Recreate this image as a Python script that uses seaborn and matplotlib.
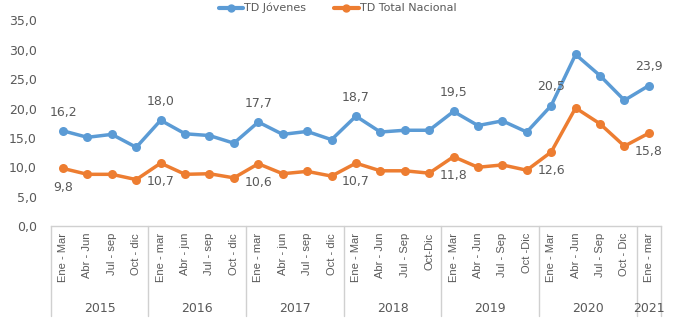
import matplotlib
matplotlib.use("Agg")
import matplotlib.pyplot as plt
import seaborn as sns
import pandas as pd

quarters = ["Ene - Mar", "Abr - Jun", "Jul - sep", "Oct - dic",
            "Ene - mar", "Abr - jun", "Jul - sep", "Oct - dic",
            "Ene - mar", "Abr - jun", "Jul - sep", "Oct - dic",
            "Ene - Mar", "Abr - Jun", "Jul - Sep", "Oct-Dic",
            "Ene - Mar", "Abr - Jun", "Jul - Sep", "Oct -Dic",
            "Ene - Mar", "Abr - Jun", "Jul - Sep", "Oct - Dic",
            "Ene - mar"]
years = ["2015", "2016", "2017", "2018", "2019", "2020", "2021"]
year_counts = [4, 4, 4, 4, 4, 4, 1]

td_jovenes = [16.2, 15.1, 15.6, 13.4, 18.0, 15.7, 15.4, 14.1, 17.7, 15.6, 16.1, 14.7,
              18.7, 16.0, 16.3, 16.3, 19.5, 17.1, 17.9, 16.0, 20.5, 29.2, 25.6, 21.4, 23.9]
td_total = [9.8, 8.8, 8.8, 7.9, 10.7, 8.8, 8.9, 8.2, 10.6, 8.9, 9.3, 8.5,
            10.7, 9.4, 9.4, 9.0, 11.8, 10.0, 10.4, 9.5, 12.6, 20.1, 17.4, 13.6, 15.8]
labeled = [0, 4, 8, 12, 16, 20, 24]

series_names = ["TD Jóvenes", "TD Total Nacional"]
colors = ["#5B9BD5", "#ED7D31"]

n = len(quarters)
df = pd.DataFrame({
    "idx": list(range(n)) * 2,
    "valor": td_jovenes + td_total,
    "serie": [series_names[0]] * n + [series_names[1]] * n,
})

sns.set_style("white")
plt.rcParams["font.family"] = ["DejaVu Sans"]

fig = plt.figure(figsize=(6.75, 3.29), dpi=100)
ax = fig.add_axes([0.0753, 0.313, 0.904, 0.625])

sns.lineplot(data=df, x="idx", y="valor", hue="serie", palette=colors,
             marker="o", markersize=6.5, linewidth=2.5, markeredgewidth=0,
             ax=ax, legend=False)

text_color = "#595959"
for i in labeled:
    ax.annotate(f"{td_jovenes[i]:.1f}".replace(".", ","), (i, td_jovenes[i]),
                xytext=(0, 13.5), textcoords="offset points", ha="center", va="center",
                fontsize=9, color=text_color)
    ax.annotate(f"{td_total[i]:.1f}".replace(".", ","), (i, td_total[i]),
                xytext=(0, -13.5), textcoords="offset points", ha="center", va="center",
                fontsize=9, color=text_color)

ax.set_xlim(-0.5, n - 0.5)
ax.set_ylim(0, 35)
ax.set_yticks([0, 5, 10, 15, 20, 25, 30, 35])
ax.set_yticklabels([f"{v:.1f}".replace(".", ",") for v in [0, 5, 10, 15, 20, 25, 30, 35]],
                   fontsize=9, color=text_color)
ax.set_xticks(range(n))
ax.set_xticklabels(quarters, rotation=90, fontsize=8, color=text_color,
                   family="Liberation Sans", va="top")
ax.tick_params(axis="both", length=0)
ax.tick_params(axis="x", pad=5)
ax.tick_params(axis="y", pad=10)
ax.set_xlabel("")
ax.set_ylabel("")

for s in ["top", "right", "left"]:
    ax.spines[s].set_visible(False)
ax.spines["bottom"].set_color("#D0D0D0")
ax.spines["bottom"].set_linewidth(1)

# year separators and labels
trans = ax.get_xaxis_transform()
pos = -0.5
bounds = [pos]
for c in year_counts:
    pos += c
    bounds.append(pos)
for b in bounds:
    ax.plot([b, b], [0, -0.44], transform=trans, color="#D0D0D0", lw=1, clip_on=False)
for k, y in enumerate(years):
    center = (bounds[k] + bounds[k + 1]) / 2
    ax.text(center, -0.40, y, transform=trans, ha="center", va="center",
            fontsize=9, color=text_color)

handles = [plt.Line2D([0], [0], color=c, lw=3, marker="o", markersize=5) for c in colors]
fig.legend(handles, series_names, loc="center", bbox_to_anchor=(0.5, 0.975), ncol=2,
           frameon=False, fontsize=8, handlelength=2.2, handletextpad=0.1,
           columnspacing=2.5, labelcolor=text_color)

fig.savefig("out.png", dpi=100)
